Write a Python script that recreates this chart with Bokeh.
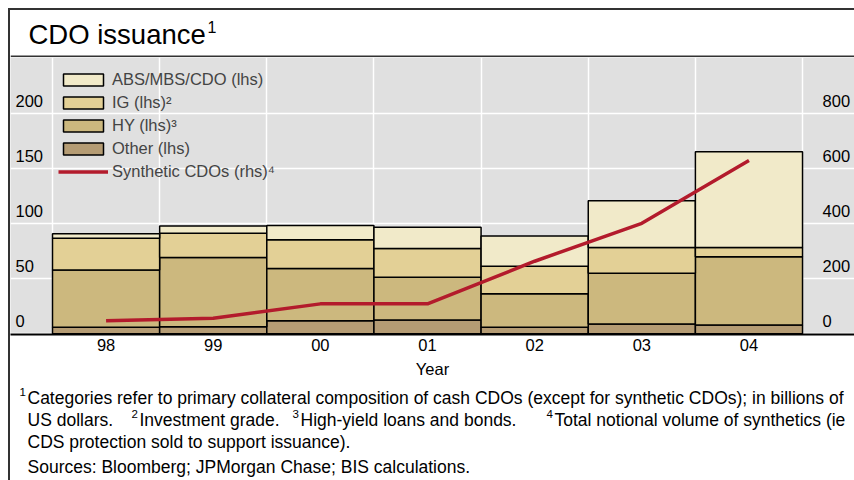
from bokeh.plotting import figure
from bokeh.layouts import column
from bokeh.models import (Range1d, FixedTicker, Legend, LegendItem, ColumnDataSource)
from bokeh.core.properties import value
from bokeh.embed import file_html
from bokeh.resources import INLINE

# ---------------- data ----------------
years = ["98", "99", "00", "01", "02", "03", "04"]
other = [6, 6.5, 12, 12.5, 6, 9, 8]
hy = [52, 63, 47.5, 39, 30.5, 46, 62]
ig = [29, 22, 26, 26, 25, 23.5, 8.5]
abs_mbs_cdo = [4, 6.5, 13, 19.5, 27.5, 42.5, 87]
synthetic = [48, 57, 109, 109, 264, 402, 630]

lhs_ticks = [0, 50, 100, 150, 200]
rhs_ticks = [0, 200, 400, 600, 800]

series_labels = ["Other (lhs)", "HY (lhs)\u00b3", "IG (lhs)\u00b2", "ABS/MBS/CDO (lhs)"]
line_label = "Synthetic CDOs (rhs)\u2074"

title_text = "CDO issuance"
footnotes = [
    # (superscript, text, page x, line)
    ("1", "Categories refer to primary collateral composition of cash CDOs (except for synthetic CDOs); in billions of", 27, 0),
    ("", "US dollars.", 27, 1),
    ("2", "Investment grade.", 139, 1),
    ("3", "High-yield loans and bonds.", 300, 1),
    ("4", "Total notional volume of synthetics (ie", 554, 1),
    ("", "CDS protection sold to support issuance).", 27, 2),
    ("", "Sources: Bloomberg; JPMorgan Chase; BIS calculations.", 27, 3),
]

# ---------------- style ----------------
FONT = "Liberation Sans"
C_OTHER, C_HY, C_IG, C_ABS = "#B59C74", "#CCB87E", "#E3D096", "#F1EAC9"
C_LINE = "#B31B2C"
BG = "#E0E0E0"
W = 844
OX = 10  # page x of the canvas' left edge (8px margin + 2px border)


def blank_fig(h):
    f = figure(width=W, height=h, output_backend="svg", toolbar_location=None,
               x_range=Range1d(0, W), y_range=Range1d(0, h),
               x_axis_location=None, y_axis_location=None, min_border=0,
               outline_line_color=None, background_fill_color="white", border_fill_color="white")
    f.grid.visible = False
    return f


# ---------------- title strip ----------------
TH = 47
ft = blank_fig(TH)
ft.text(x=[28 - OX], y=[TH - 24], text=[title_text], text_font=value(FONT), text_font_size="27.5px",
        text_baseline="middle", text_align="left", text_color="black")
ft.text(x=[207 - OX], y=[TH - 16], text=["1"], text_font=value(FONT), text_font_size="16px",
        text_baseline="middle", text_align="left", text_color="black")
ft.segment(x0=[0], y0=[1], x1=[W], y1=[1], line_color="#333", line_width=2)

# ---------------- main chart ----------------
x = list(range(len(years)))
src = ColumnDataSource(dict(x=x, other=other, hy=hy, ig=ig, abs=abs_mbs_cdo, syn=synthetic))

FRAME_H = 277
BOTTOM = 48
p = figure(width=W, height=FRAME_H + BOTTOM, output_backend="svg", toolbar_location=None,
           x_range=Range1d(-0.892, 6.985), y_range=Range1d(-0.6, 251.2),
           y_axis_location=None, x_axis_location="below",
           min_border_left=0, min_border_right=0, min_border_top=0, min_border_bottom=BOTTOM,
           background_fill_color=BG, border_fill_color="white", outline_line_color=None)
p.extra_y_ranges = {"rhs": Range1d(-2.4, 1004.8)}

p.xgrid.ticker = FixedTicker(ticks=[i - 0.5 for i in range(len(years) + 1)])
p.ygrid.ticker = FixedTicker(ticks=lhs_ticks)
p.grid.grid_line_color = "white"
p.grid.grid_line_width = 1.5

ax = p.xaxis[0]
ax.ticker = FixedTicker(ticks=x)
ax.major_label_overrides = {i: y for i, y in zip(x, years)}
ax.axis_label = "Year"
ax.axis_line_color = "black"
ax.axis_line_width = 2
ax.major_tick_line_color = None
ax.minor_tick_line_color = None
ax.major_tick_out = 0
ax.major_tick_in = 0
ax.major_label_standoff = 4
ax.axis_label_standoff = 6
ax.major_label_text_font = FONT
ax.major_label_text_font_size = "16.5px"
ax.major_label_text_color = "black"
ax.axis_label_text_font = FONT
ax.axis_label_text_font_size = "16.5px"
ax.axis_label_text_font_style = "normal"
ax.axis_label_text_color = "black"

bars = p.vbar_stack(["other", "hy", "ig", "abs"], x="x", width=1.0, source=src,
                    fill_color=[C_OTHER, C_HY, C_IG, C_ABS],
                    line_color="black", line_width=1.5)

ln = p.line("x", "syn", source=src, y_range_name="rhs", line_color=C_LINE, line_width=3.5)

XL = -0.892 + 5 / 107.143
XR = -0.892 + 812 / 107.143
RAISE = 12
p.text(x=[XL] * len(lhs_ticks), y=[t + RAISE for t in lhs_ticks], text=[str(t) for t in lhs_ticks],
       text_font=value(FONT), text_font_size="16.5px", text_baseline="middle", text_align="left",
       text_color="black")
p.text(x=[XR] * len(rhs_ticks), y=[t + 4 * RAISE for t in rhs_ticks], text=[str(t) for t in rhs_ticks],
       text_font=value(FONT), text_font_size="16.5px", text_baseline="middle", text_align="left",
       text_color="black", y_range_name="rhs")

items = [LegendItem(label=series_labels[3], renderers=[bars[3]]),
         LegendItem(label=series_labels[2], renderers=[bars[2]]),
         LegendItem(label=series_labels[1], renderers=[bars[1]]),
         LegendItem(label=series_labels[0], renderers=[bars[0]]),
         LegendItem(label=line_label, renderers=[ln])]
legend = Legend(items=items, location=(48, 153), padding=0, margin=0, spacing=3,
                glyph_width=50, glyph_height=15, label_standoff=4, label_height=20,
                label_text_font=FONT, label_text_font_size="16.5px",
                border_line_color=None, background_fill_alpha=0)
p.add_layout(legend)

# ---------------- footnotes ----------------
FOOT_TOP = OX + TH + FRAME_H + BOTTOM      # page y of footer top
FH = 480 - FOOT_TOP
ff = blank_fig(FH)
line_page_y = [397, 419, 441, 466]
line_y = [FH - (py - FOOT_TOP) for py in line_page_y]
fx = [f[2] - OX for f in footnotes]
fy = [line_y[f[3]] for f in footnotes]
ff.text(x=fx, y=fy, text=[f[1] for f in footnotes], text_font=value(FONT), text_font_size="17.5px",
        text_baseline="middle", text_align="left", text_color="black")
sups = [f for f in footnotes if f[0]]
ff.text(x=[f[2] - OX - 8 for f in sups], y=[line_y[f[3]] + 6 for f in sups], text=[f[0] for f in sups],
        text_font=value(FONT), text_font_size="11.5px",
        text_baseline="middle", text_align="left", text_color="black")

layout = column(ft, p, ff, spacing=0,
                styles={"margin-left": "8px", "margin-top": "8px",
                        "border-left": "2px solid #333", "border-top": "2px solid #333"})

open("out.html", "w").write(file_html(layout, INLINE))
